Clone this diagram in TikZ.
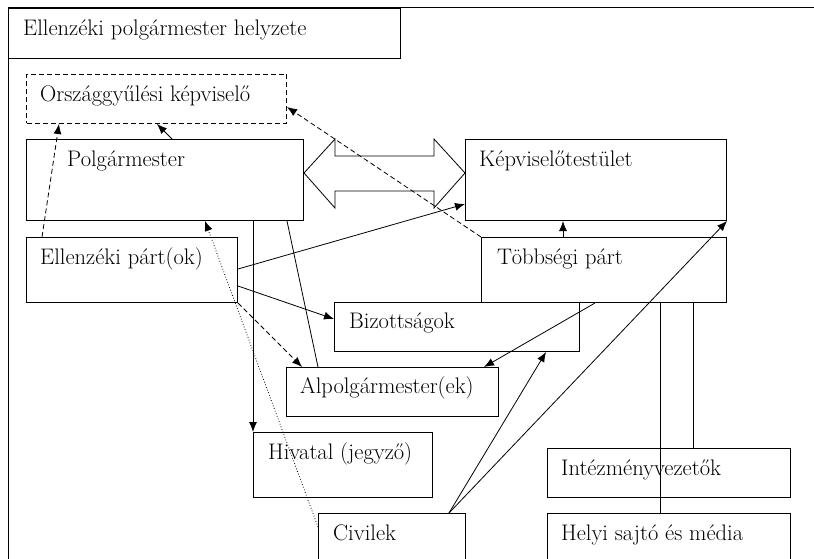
\documentclass[tikz,border=0pt]{standalone}
\usetikzlibrary{arrows.meta,calc}

\begin{document}
\begin{tikzpicture}[x=1pt,y=-1pt,>={Latex[length=10pt,width=8pt]},
  box/.style 2 args={draw, line width=1pt, inner sep=0pt, anchor=north west,
    minimum width=#1, minimum height=#2},
  lbl/.style={inner sep=0pt, anchor=base west, font=\fontsize{22.5}{26}\selectfont},
  conn/.style={line width=0.8pt},
  dsh/.style={conn, dash pattern=on 5pt off 3pt}]

  \useasboundingbox (0,0) rectangle (814,559);
  \clip (0,0) rectangle (814,559);

  % Frame and title
  \draw[line width=1pt] (8,8) rectangle (840,590);
  \node[box={392}{50}] (title) at (8,8) {};
  \node[lbl] (title-t) at ($(title.north west)+(15,28)$) {Ellenzéki polgármester helyzete};

  % Boxes
  \node[box={260}{49}, dash pattern=on 5pt off 3pt] (orsz) at (26,74) {};
  \node[box={277}{81}] (polg) at (26,139) {};
  \node[box={261}{81}] (kepv) at (465,139) {};
  \node[box={211}{65}] (ellp) at (26,237) {};
  \node[box={245}{65}] (tobb) at (481,237) {};
  \node[box={245}{49}] (bizo) at (334,302) {};
  \node[box={212}{49}] (alpo) at (286,367) {};
  \node[box={179}{65}] (hiva) at (253,432) {};
  \node[box={147}{70}] (civi) at (318,513) {};
  \node[box={243}{49}] (inte) at (547,448) {};
  \node[box={243}{70}] (sajto) at (547,513) {};

  % Labels
  \node[lbl] (orsz-t) at ($(orsz.north west)+(14,28)$) {Országgyűlési képviselő};
  \node[lbl] (polg-t) at ($(polg.north west)+(41,28)$) {Polgármester};
  \node[lbl] (kepv-t) at ($(kepv.north west)+(14,28)$) {Képviselőtestület};
  \node[lbl] (ellp-t) at ($(ellp.north west)+(14,27)$) {Ellenzéki párt(ok)};
  \node[lbl] (tobb-t) at ($(tobb.north west)+(16,27)$) {Többségi párt};
  \node[lbl] (bizo-t) at ($(bizo.north west)+(15,26)$) {Bizottságok};
  \node[lbl] (alpo-t) at ($(alpo.north west)+(14,26)$) {Alpolgármester(ek)};
  \node[lbl] (hiva-t) at ($(hiva.north west)+(15,27)$) {Hivatal (jegyző)};
  \node[lbl] (civi-t) at ($(civi.north west)+(15,27)$) {Civilek};
  \node[lbl] (inte-t) at ($(inte.north west)+(14,27)$) {Intézményvezetők};
  \node[lbl] (sajto-t) at ($(sajto.north west)+(14,27)$) {Helyi sajtó és média};

  % Double arrow
  \coordinate (dl) at ($(polg.north east)+(0,34)$);
  \coordinate (dr) at ($(kepv.north west)+(0,34)$);
  \draw[conn] (dl) -- ++(31,-34) -- ++(0,17) -- ($(dr)+(-31,-17)$) -- ++(0,-17)
    -- (dr) -- ++(-31,35) -- ++(0,-17) -- ($(dl)+(31,18)$) -- ++(0,17) -- cycle;

  % Connectors
  \draw[conn,->] ($(polg.north west)+(146,0)$) -- ($(orsz.south west)+(131,0)$);
  \draw[dsh,->] ($(ellp.north west)+(16,0)$) -- ($(orsz.south west)+(33,0)$);
  \draw[dsh,->] (tobb.north west) -- ($(orsz.north east)+(0,33)$);
  \draw[conn,->] ($(ellp.north east)+(0,32)$) -- ($(kepv.south west)+(0,-17)$);
  \draw[conn,->] ($(ellp.north east)+(0,49)$) -- ($(bizo.north west)+(0,17)$);
  \draw[dsh,->] (ellp.south east) -- ($(alpo.north west)+(16,0)$);
  \draw[conn,->] (polg.south -| hiva.west) -- (hiva.north west);
  \draw[conn] ($(polg.south west)+(261,0)$) -- ($(alpo.north west)+(32,0)$);
  \draw[conn,->,dotted] ($(civi.north west)+(0,14)$) -- ($(polg.south west)+(179,0)$);
  \draw[conn,->] ($(tobb.north west)+(82,0)$) -- ($(kepv.south west)+(98,0)$);
  \draw[conn,->] ($(tobb.south west)+(114,0)$) -- ($(alpo.north east)+(-15,0)$);
  \draw[conn,->] ($(civi.north west)+(131,0)$) -- ($(bizo.south west)+(212,0)$);
  \draw[conn,->] ($(civi.north west)+(131,0)$) -- (kepv.south east);
  \draw[conn] ($(tobb.south west)+(179,0)$) -- ($(sajto.north west)+(113,0)$);
  \draw[conn] ($(tobb.south west)+(212,0)$) -- ($(inte.north west)+(146,0)$);

\end{tikzpicture}
\end{document}
